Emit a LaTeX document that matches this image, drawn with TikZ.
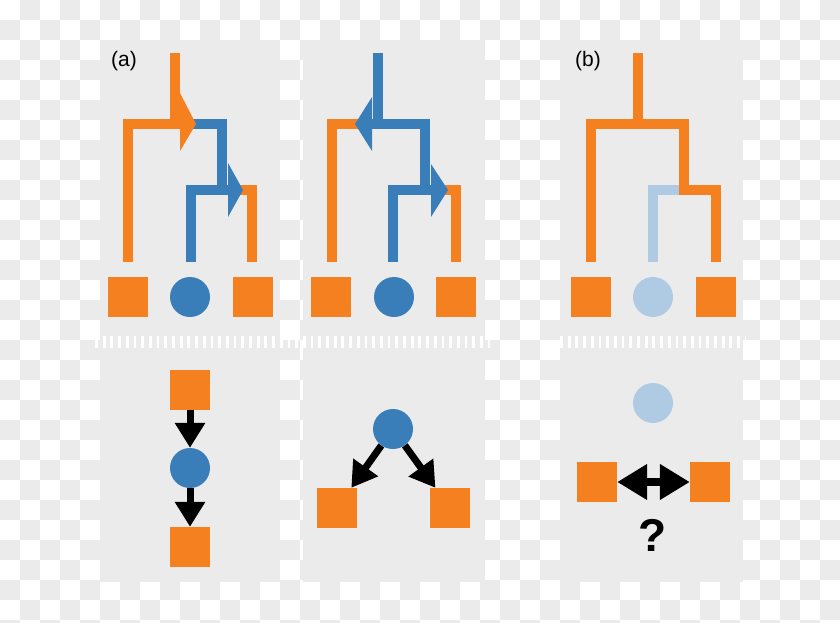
\documentclass[tikz,border=0pt]{standalone}
\usepackage{fontspec}
\setmainfont{Liberation Sans}
\usetikzlibrary{arrows.meta}
\definecolor{org}{RGB}{244,128,32}
\definecolor{blu}{RGB}{58,126,185}
\definecolor{lblu}{RGB}{174,203,227}
\definecolor{ck}{RGB}{235,235,235}
\begin{document}
\begin{tikzpicture}[x=1pt,y=-1pt,
  br/.style={line width=10pt, line join=miter, line cap=butt},
  sq/.style={rectangle, fill=org, minimum size=40pt, inner sep=0pt},
  dot/.style={circle, fill=blu, minimum size=40pt, inner sep=0pt},
  ldot/.style={circle, fill=lblu, minimum size=40pt, inner sep=0pt},
  blk/.style={draw=black, line width=7pt, -{Triangle[length=25pt,width=29pt]}},
  dbl/.style={draw=black, line width=8pt, {Triangle[length=30pt,width=34pt]}-{Triangle[length=30pt,width=34pt]}},
  panel/.style={fill=ck},
  sep/.style={draw=white, line width=12pt, dash pattern=on 2.8pt off 4.9pt},
  lab/.style={font=\fontsize{21}{25}\selectfont, inner sep=0pt}]
\useasboundingbox (0,0) rectangle (840,623);
% checkerboard background
\begin{scope}
\clip (0,0) rectangle (840,623);
\fill[white] (0,0) rectangle (840,623);
\foreach \i in {0,...,41}{
  \foreach \j in {0,...,31}{
    \pgfmathtruncatemacro\myodd{mod(\i+\j,2)}
    \ifnum\myodd=1 \fill[ck] (\i*20,\j*20) rectangle ++(20,20); \fi
  }
}
\end{scope}
% panels
\fill[panel] (100,40) rectangle (280,582);
\fill[panel] (303,40) rectangle (485,582);
\fill[panel] (560,40) rectangle (743,582);
% separators
\draw[sep] (95,342) -- (490,342);
\draw[sep] (560,342) -- (745,342);
% labels
\node[lab] (la) at (124,61) {(a)};
\node[lab] (lb) at (588,61) {(b)};

% ---------- panel (a) top ----------
\draw[br,org] (175,53) -- (175,129);
\draw[br,org] (128,262) -- (128,124) -- (182,124);
\draw[br,blu] (190,124) -- (222,124) -- (222,195);
\draw[br,blu] (191,262) -- (191,190) -- (232,190);
\draw[br,org] (240,190) -- (252,190) -- (252,262);
\fill[org] (180,93) -- (196,124) -- (180,151) -- cycle;
\fill[blu] (228,163) -- (243,190) -- (228,217) -- cycle;
\node[sq]  (a1) at (128,297) {};
\node[dot] (a2) at (190,297) {};
\node[sq]  (a3) at (253,297) {};

% ---------- panel middle top ----------
\draw[br,blu] (378,53) -- (378,129);
\draw[br,blu] (372,124) -- (425,124) -- (425,195);
\draw[br,blu] (393,262) -- (393,190) -- (436,190);
\draw[br,org] (360,124) -- (332,124) -- (332,262);
\draw[br,org] (445,190) -- (456,190) -- (456,262);
\fill[blu] (372,97) -- (355,124) -- (372,151) -- cycle;
\fill[blu] (431,164) -- (448,190) -- (431,217) -- cycle;
\node[sq]  (m1) at (331,297) {};
\node[dot] (m2) at (394,297) {};
\node[sq]  (m3) at (456,297) {};

% ---------- panel (b) top ----------
\draw[br,org] (638,53) -- (638,129);
\draw[br,lblu] (653,262) -- (653,190) -- (680,190);
\draw[br,org] (591,262) -- (591,124) -- (684,124) -- (684,190) -- (716,190) -- (716,262);
\node[sq]   (b1) at (591,297) {};
\node[ldot] (b2) at (653,297) {};
\node[sq]   (b3) at (716,297) {};

% ---------- bottom (a) ----------
\node[sq]  (c1) at (190,390) {};
\node[dot] (c2) at (190,468) {};
\node[sq]  (c3) at (190,547) {};
\draw[blk] (c1) -- (c2);
\draw[blk] (c2) -- (c3);

% ---------- bottom middle ----------
\node[dot] (d1) at (393,429) {};
\node[sq]  (d2) at (337,508) {};
\node[sq]  (d3) at (450,508) {};
\draw[blk] (d1) -- (d2);
\draw[blk] (d1) -- (d3);

% ---------- bottom (b) ----------
\node[ldot] (e1) at (653,403) {};
\node[sq]   (e2) at (597,482) {};
\node[sq]   (e3) at (710,482) {};
\draw[dbl] (e2) -- (e3);
\node[font=\fontsize{46}{50}\selectfont\bfseries, inner sep=0pt] (q) at (653,535) {?};
\end{tikzpicture}
\end{document}
